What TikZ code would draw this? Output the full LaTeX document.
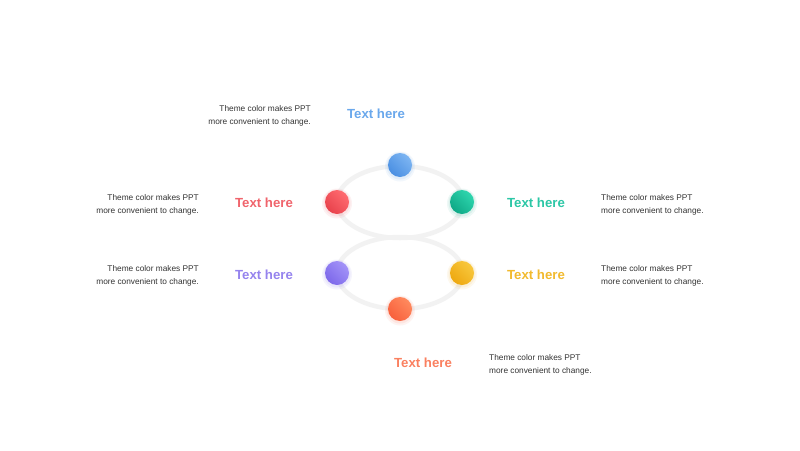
\documentclass[tikz,border=0pt]{standalone}
\usepackage{fontspec}
\setmainfont{Liberation Sans}
\definecolor{cblueA}{HTML}{7DB5F2}
\definecolor{cblueB}{HTML}{4A8FE2}
\definecolor{credA}{HTML}{FF6B70}
\definecolor{credB}{HTML}{E8424C}
\definecolor{cgreenA}{HTML}{2ED6AE}
\definecolor{cgreenB}{HTML}{0FA886}
\definecolor{cpurpA}{HTML}{A393F8}
\definecolor{cpurpB}{HTML}{7D68EA}
\definecolor{cyelA}{HTML}{F8C83E}
\definecolor{cyelB}{HTML}{EEA810}
\definecolor{corA}{HTML}{FF8A5E}
\definecolor{corB}{HTML}{F8603C}
\definecolor{tblue}{HTML}{6AA8EC}
\definecolor{tred}{HTML}{F0646C}
\definecolor{tgreen}{HTML}{2CC7A6}
\definecolor{tpurp}{HTML}{9583EE}
\definecolor{tyel}{HTML}{F2BA2E}
\definecolor{tor}{HTML}{FA8060}
\definecolor{ringgray}{HTML}{F2F2F2}
\definecolor{desc}{HTML}{333333}
\tikzset{
  ring/.style={draw=ringgray, line width=4.5pt},
  title/.style={font=\fontsize{13.2}{15}\selectfont\bfseries, inner sep=0pt},
  desctext/.style={font=\fontsize{8.3}{13}\selectfont, text=desc, inner sep=0pt},
  ball/.style n args={2}{circle, minimum size=24pt, inner sep=0pt, left color=#1, right color=#2, shading angle=-45},
}
\newcommand{\halo}[2]{%
  \fill[#2, opacity=0.07] ($(#1)+(0,1.5)$) circle (15pt);
  \fill[#2, opacity=0.09] ($(#1)+(0,1)$) circle (13.5pt);
}
\usetikzlibrary{calc}
\begin{document}
\begin{tikzpicture}[x=1pt,y=-1pt]
\useasboundingbox[fill=white] (0,0) rectangle (800,450);
% rings
\draw[ring] (400,202) ellipse [x radius=63pt, y radius=36pt];
\draw[ring] (400,273) ellipse [x radius=63pt, y radius=36pt];
% halo positions
\coordinate (pb) at (400,165);
\coordinate (pr) at (337,202);
\coordinate (pg) at (462,202);
\coordinate (pp) at (337,273);
\coordinate (py) at (462,273);
\coordinate (po) at (400,309);
\halo{pb}{cblueB}
\halo{pr}{credB}
\halo{pg}{cgreenB}
\halo{pp}{cpurpB}
\halo{py}{cyelB}
\halo{po}{corB}
% balls
\node[ball={cblueA}{cblueB}] (bblue) at (pb) {};
\node[ball={credA}{credB}] (bred) at (pr) {};
\node[ball={cgreenA}{cgreenB}] (bgreen) at (pg) {};
\node[ball={cpurpA}{cpurpB}] (bpurp) at (pp) {};
\node[ball={cyelA}{cyelB}] (byel) at (py) {};
\node[ball={corA}{corB}] (bor) at (po) {};
% titles
\node[title, text=tblue] (tb) at (376,114) {Text here};
\node[title, text=tred] (tr) at (264,203) {Text here};
\node[title, text=tgreen] (tg) at (536,203) {Text here};
\node[title, text=tpurp] (tp) at (264,275) {Text here};
\node[title, text=tyel] (ty) at (536,275) {Text here};
\node[title, text=tor] (to) at (423,363) {Text here};
% descriptions
\node[desctext, align=right, anchor=east] (db) at (311,115.5) {Theme color makes PPT\\more convenient to change.};
\node[desctext, align=right, anchor=east] (dr) at (199,204.5) {Theme color makes PPT\\more convenient to change.};
\node[desctext, align=right, anchor=east] (dp) at (199,275.5) {Theme color makes PPT\\more convenient to change.};
\node[desctext, align=left, anchor=west] (dg) at (601,204.5) {Theme color makes PPT\\more convenient to change.};
\node[desctext, align=left, anchor=west] (dy) at (601,275.5) {Theme color makes PPT\\more convenient to change.};
\node[desctext, align=left, anchor=west] (do) at (489,364.5) {Theme color makes PPT\\more convenient to change.};
\end{tikzpicture}
\end{document}
